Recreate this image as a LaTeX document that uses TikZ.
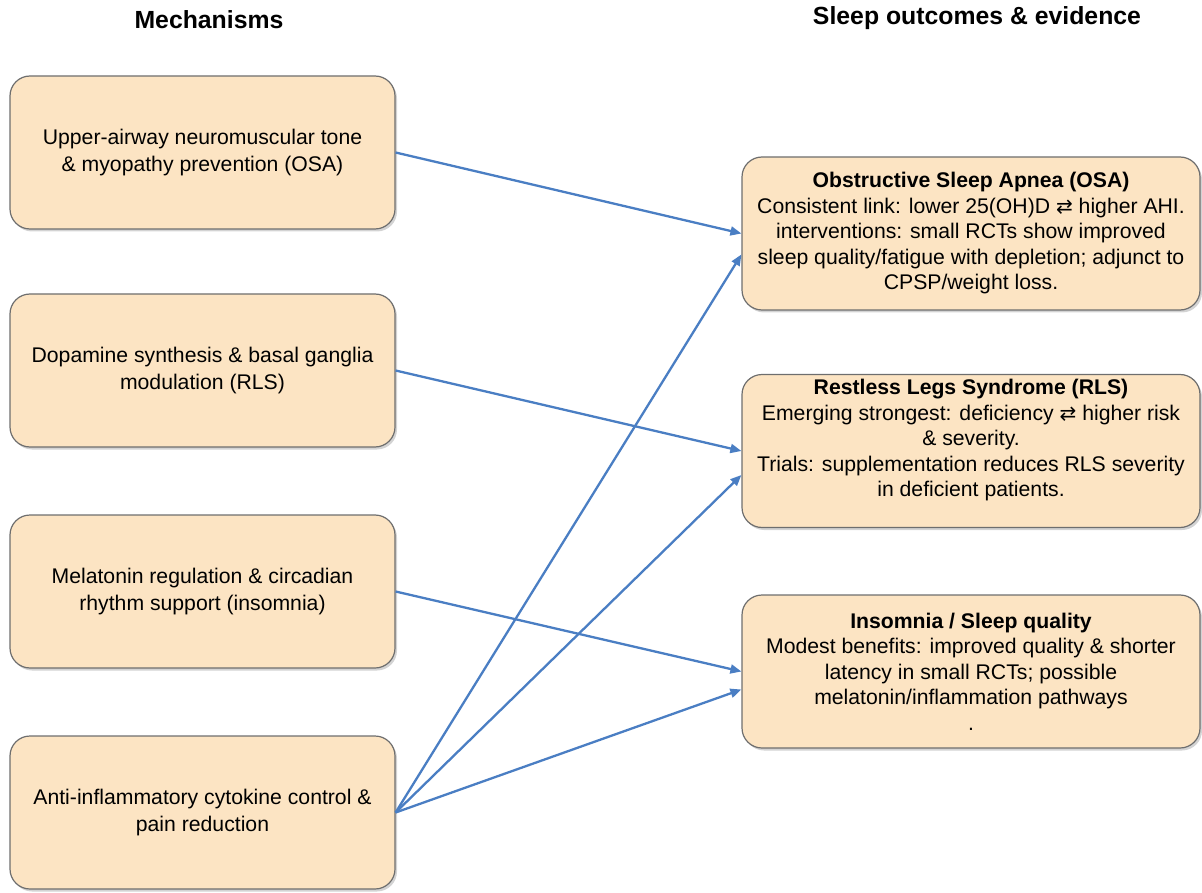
\documentclass[tikz,border=0pt]{standalone}
\usepackage{fontspec}
\setmainfont{Liberation Sans}
\newfontfamily\symfont{DejaVu Sans}
\usetikzlibrary{arrows.meta,shadows}
\newcommand{\lrarr}{{\symfont\fontsize{20}{22}\selectfont ⇄}}
\definecolor{boxfill}{HTML}{FCE4C3}
\definecolor{boxline}{HTML}{6E6E6E}
\definecolor{linkblue}{HTML}{4A7EC3}

\begin{document}
\begin{tikzpicture}[x=1pt,y=1pt,
  mech/.style={draw=boxline,line width=1.2pt,fill=boxfill,rounded corners=20pt,
    minimum width=385pt,minimum height=153pt,align=center,inner sep=4pt,
    font=\fontsize{21.2}{26.5}\selectfont,
    drop shadow={shadow xshift=2pt,shadow yshift=-2.5pt,opacity=0.35}},
  outc/.style={mech,minimum width=458pt,font=\fontsize{21.2}{25.5}\selectfont},
  head/.style={font=\bfseries\fontsize{24.8}{28}\selectfont},
  link/.style={draw=linkblue,line width=2.3pt,-{Triangle[length=11pt,width=9pt]}}]
\useasboundingbox (0,0) rectangle (1202,-893);

\node [head] (hmech) at (209,-20) {Mechanisms};
\node [head] (hout) at (977,-18) {Sleep outcomes \& evidence};

\node [mech] (m1) at (202.5,-152.5) {Upper-airway neuromuscular tone\\ \& myopathy prevention (OSA)};
\node [mech] (m2) at (202.5,-370.5) {Dopamine synthesis \& basal ganglia\\ modulation (RLS)};
\node [mech] (m3) at (202.5,-591.5) {Melatonin regulation \& circadian\\ rhythm support (insomnia)};
\node [mech] (m4) at (202.5,-812.5) {Anti-inflammatory cytokine control \&\\ pain reduction};

\node [outc] (o1) at (971,-233.5) {\textbf{Obstructive Sleep Apnea (OSA)}\\
  Consistent link: lower 25(OH)D \lrarr{} higher AHI.\\
  interventions: small RCTs show improved\\
  sleep quality/fatigue with depletion; adjunct to\\
  CPSP/weight loss.};
\node [outc] (o2) at (971,-451) {\textbf{Restless Legs Syndrome (RLS)}\\
  Emerging strongest: deficiency \lrarr{} higher risk\\
  \& severity.\\
  Trials: supplementation reduces RLS severity\\
  in deficient patients.\\ ~};
\node [outc] (o3) at (971,-671.5) {\textbf{Insomnia / Sleep quality}\\
  Modest benefits: improved quality \& shorter\\
  latency in small RCTs; possible\\
  melatonin/inflammation pathways\\
  .};

\draw [link] (m1.east) -- (o1.west);
\draw [link] (m2.east) -- (o2.west);
\draw [link] (m3.east) -- (o3.west);
\draw [link] (m4.east) -- ([yshift=-21pt]o1.west);
\draw [link] (m4.east) -- ([yshift=-24pt]o2.west);
\draw [link] (m4.east) -- ([yshift=-18pt]o3.west);
\end{tikzpicture}
\end{document}
